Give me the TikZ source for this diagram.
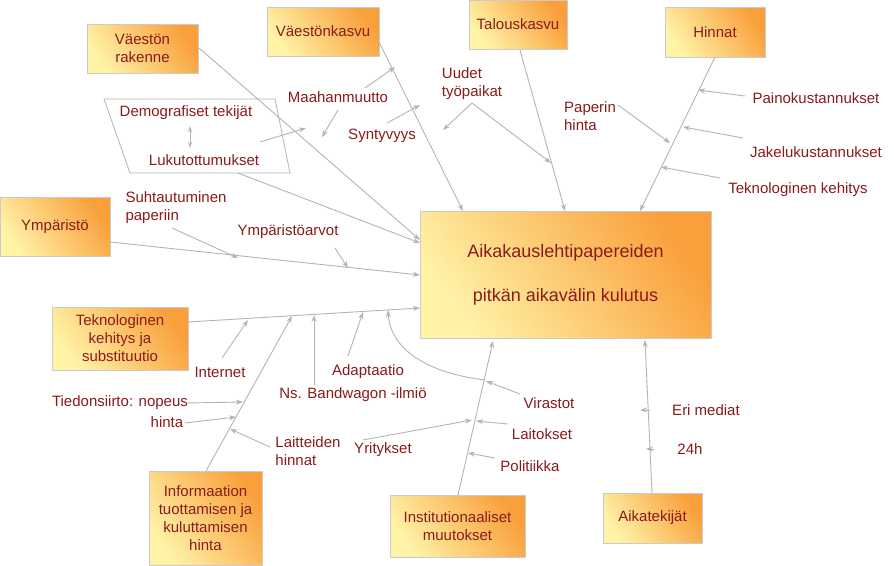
\documentclass[tikz,border=0pt]{standalone}
\usepackage{fontspec}
\setmainfont{Liberation Sans}
\usetikzlibrary{arrows.meta}
\definecolor{txt}{HTML}{8B1A1A}
\definecolor{ln}{HTML}{B4B4B4}
\definecolor{bA}{HTML}{FFF3A8}
\definecolor{bB}{HTML}{F9A03C}
\begin{document}
\begin{tikzpicture}[x=1pt,y=-1pt,
  box/.style={draw=ln!70, inner sep=0pt, left color=bA, right color=bB, shading angle=125, text=txt, align=center, font=\fontsize{15}{18}\selectfont},
  lbl/.style={text=txt, align=left, inner sep=1pt, font=\fontsize{15}{18}\selectfont},
  con/.style={draw=ln, line width=0.9pt, -{Stealth[length=7pt,width=5pt]}},
  pl/.style={draw=ln, line width=0.9pt}]
\useasboundingbox (0,0) rectangle (894,565);
\fill[white] (0,0) rectangle (894,565);
% boxes
\node[box, minimum width=291, minimum height=127, font=\fontsize{18}{44}\selectfont] (main) at (565.5,274.5) {Aikakauslehtipapereiden\\pitkän aikavälin kulutus};
\node[box, minimum width=111, minimum height=49] (vr) at (142.5,48.5) {Väestön\\rakenne};
\node[box, minimum width=112, minimum height=49] (vk) at (323,31.5) {Väestönkasvu};
\node[box, minimum width=98, minimum height=49] (tk) at (518,24.5) {Talouskasvu};
\node[box, minimum width=100, minimum height=50] (hi) at (715,32) {Hinnat};
\node[box, minimum width=110, minimum height=59] (ym) at (55,226.5) {Ympäristö};
\node[box, minimum width=136, minimum height=63] (te) at (120,338.5) {Teknologinen\\kehitys ja\\substituutio};
\node[box, minimum width=113, minimum height=94] (in) at (205.5,518) {Informaation\\tuottamisen ja\\kuluttamisen\\hinta};
\node[box, minimum width=135, minimum height=62] (is) at (457.5,526) {Institutionaaliset\\muutokset};
\node[box, minimum width=99, minimum height=50] (ai) at (652.5,518) {Aikatekijät};
% parallelogram
\draw[ln, line width=0.8pt] (104,99) coordinate (p1) -- (275,99) -- (290,173) -- (130,173) coordinate (p4) -- cycle;
\node[lbl] (dem) at (186,113) {Demografiset tekijät};
\node[lbl] (luk) at (204,160) {Lukutottumukset};
\draw[ln, line width=0.9pt, {Stealth[length=6pt,width=4pt]}-{Stealth[length=6pt,width=4pt]}] (190,126) -- (190,148);
% labels
\node[lbl] (maa) at (338,97) {Maahanmuutto};
\node[lbl] (syn) at (382,136) {Syntyvyys};
\node[lbl, align=left] (uud) at (472,84) {Uudet\\työpaikat};
\node[lbl, align=left] (pap) at (590,116) {Paperin\\hinta};
\node[lbl] (pai) at (816,98) {Painokustannukset};
\node[lbl] (jak) at (816,152) {Jakelukustannukset};
\node[lbl] (tek) at (798,190) {Teknologinen kehitys};
\node[lbl, align=left] (suh) at (176,208) {Suhtautuminen\\paperiin};
\node[lbl] (yma) at (288,232) {Ympäristöarvot};
\node[lbl] (int) at (220,372) {Internet};
\node[lbl] (tie) at (120,403) {Tiedonsiirto: nopeus};
\node[lbl] (hin) at (167,422) {hinta};
\node[lbl, align=left] (lai) at (308,451) {Laitteiden\\hinnat};
\node[lbl] (ban) at (353,395) {Ns. Bandwagon -ilmiö};
\node[lbl] (ada) at (368,372) {Adaptaatio};
\node[lbl] (vir) at (549,403) {Virastot};
\node[lbl] (yri) at (383,450) {Yritykset};
\node[lbl] (lak) at (542,434) {Laitokset};
\node[lbl] (pol) at (530,466) {Politiikka};
\node[lbl] (eri) at (706,410) {Eri mediat};
\node[lbl] (h24) at (690,449) {24h};
% main bones
\draw[con] (199,48) -- (420,240);
\draw[con] (379,42) -- (463,211);
\draw[con] (520,50) -- (565,211);
\draw[con] (715,57) -- (640,211);
\draw[con] (238,173) -- (420,243);
\draw[con] (110,242) -- (420,275);
\draw[con] (188,322) -- (420,308);
\draw[con] (206,471) -- (292,316);
\draw[con] (458,495) -- (493,341);
\draw[con] (652,493) -- (645,340);
% small arrows
\draw[con] (365,88) -- (395,67);
\draw[con] (338,110) -- (322,137);
\draw[con] (387,123) -- (420,105);
\draw[con] (472,103) -- (443,130);
\draw[con] (472,103) -- (551,163);
\draw[con] (260,142) -- (306,128);
\draw[con] (618,105) -- (670,143);
\draw[con] (745,96) -- (698,90);
\draw[con] (743,138) -- (683,127);
\draw[con] (720,178) -- (661,167);
\draw[con] (172,228) -- (238,258);
\draw[con] (335,248) -- (348,268);
\draw[con] (222,358) -- (248,320);
\draw[con] (185,403) -- (243,402);
\draw[con] (185,423) -- (236,417);
\draw[con] (270,447) -- (230,429);
\draw[con] (314,385) -- (314,315);
\draw[con] (348,356) -- (363,312);
\draw[con] (485,380) .. controls (420,372) and (390,345) .. (388,310);
\draw[con] (520,394) -- (486,381);
\draw[con] (363,440) -- (472,420);
\draw[con] (508,424) -- (476,421);
\draw[con] (495,458) -- (468,453);
\draw[con] (650,410) -- (640,410);
\draw[con] (654,449) -- (646,449);
\end{tikzpicture}
\end{document}
